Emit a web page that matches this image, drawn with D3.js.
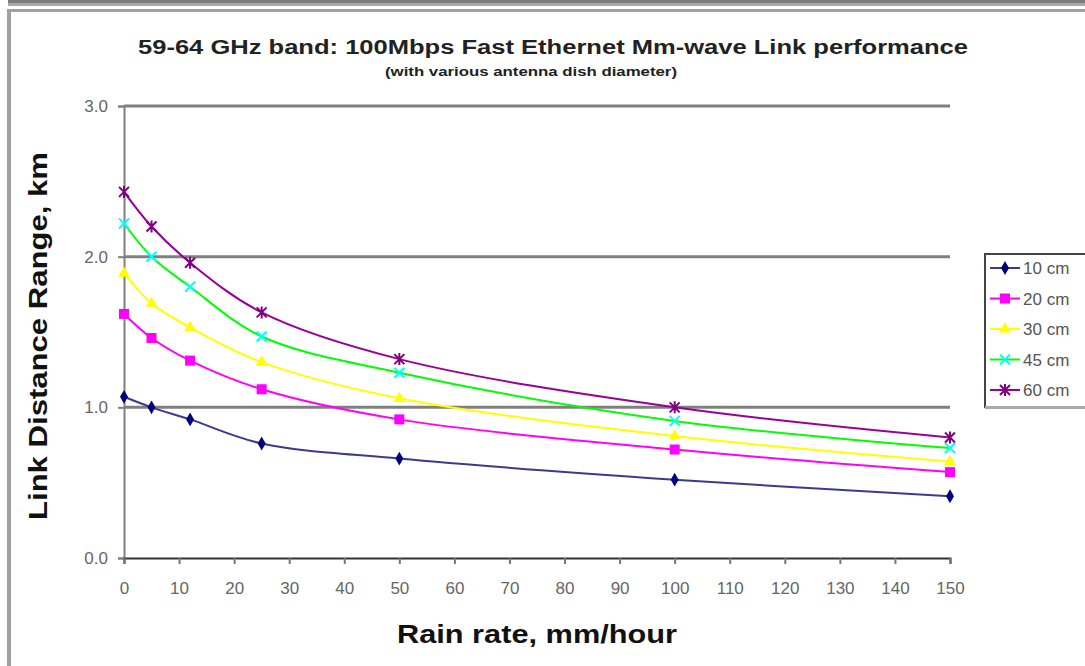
<!DOCTYPE html>
<html>
<head>
<meta charset="utf-8">
<script src="https://cdnjs.cloudflare.com/ajax/libs/d3/7.8.5/d3.min.js"></script>
<style>
  body { margin: 0; background: #fff; }
  svg { display: block; font-family: "Liberation Sans", Arial, sans-serif; }
</style>
</head>
<body>
<svg id="chart" width="1085" height="666"></svg>
<script>
// chart data
const rainRates = [0, 5, 12, 25, 50, 100, 150];
const series10 = [1.07, 1.00, 0.92, 0.76, 0.66, 0.52, 0.41];
const series20 = [1.62, 1.46, 1.31, 1.12, 0.92, 0.72, 0.57];
const series30 = [1.89, 1.69, 1.53, 1.30, 1.06, 0.81, 0.64];
const series45 = [2.22, 2.00, 1.80, 1.47, 1.23, 0.91, 0.73];
const series60 = [2.43, 2.20, 1.96, 1.63, 1.32, 1.00, 0.80];
const seriesNames = ["10 cm", "20 cm", "30 cm", "45 cm", "60 cm"];
const xTicks = [0, 10, 20, 30, 40, 50, 60, 70, 80, 90, 100, 110, 120, 130, 140, 150];
const yTicks = [0, 1, 2, 3];

const styles = [
  { line: "#3a3a95", fill: "#000080", marker: "diamond" },
  { line: "#ff00ff", fill: "#ff00ff", marker: "square" },
  { line: "#ffff00", fill: "#ffff00", marker: "triangle" },
  { line: "#00ff00", fill: "#00ffff", marker: "x" },
  { line: "#990099", fill: "#800080", marker: "star" }
];
const allSeries = [series10, series20, series30, series45, series60];

const svg = d3.select("#chart");

// outer frame
svg.append("rect").attr("x", 8).attr("y", 0).attr("width", 1077).attr("height", 3).attr("fill", "#7c7c7c");
svg.append("rect").attr("x", 8).attr("y", 3).attr("width", 1077).attr("height", 3).attr("fill", "#a9a9a9");
svg.append("rect").attr("x", 8).attr("y", 9).attr("width", 1077).attr("height", 3).attr("fill", "#a0a0a0");
svg.append("rect").attr("x", 7).attr("y", 9).attr("width", 4).attr("height", 657).attr("fill", "#a0a0a0");

const x = d3.scaleLinear().domain([0, 150]).range([124, 950]);
const y = d3.scaleLinear().domain([0, 3]).range([558, 106]);

// gridlines
svg.append("g").selectAll("line").data(yTicks.filter(d => d > 0)).join("line")
  .attr("x1", x(0)).attr("x2", x(150))
  .attr("y1", d => y(d)).attr("y2", d => y(d))
  .attr("stroke", "#808080").attr("stroke-width", 3);

// y axis
const yAxis = svg.append("g").attr("transform", `translate(${x(0)},0)`)
  .call(d3.axisLeft(y).tickValues(yTicks).tickFormat(d3.format(".1f")).tickSizeOuter(0).tickSize(6).tickPadding(10));
yAxis.select(".domain").attr("stroke", "#808080").attr("stroke-width", 2);
yAxis.selectAll(".tick line").attr("stroke", "#808080").attr("stroke-width", 2);
yAxis.selectAll("text").attr("font-size", 17).attr("fill", "#666");

// x axis
const xAxis = svg.append("g").attr("transform", `translate(0,${y(0)})`)
  .call(d3.axisBottom(x).tickValues(xTicks).tickSizeOuter(0).tickSize(6).tickPadding(18));
xAxis.select(".domain").attr("stroke", "#333").attr("stroke-width", 2);
xAxis.selectAll(".tick line").attr("stroke", "#777").attr("stroke-width", 2);
xAxis.selectAll("text").attr("font-size", 17).attr("fill", "#666");

// lines
const line = d3.line()
  .x((d, i) => x(rainRates[i]))
  .y(d => y(d))
  .curve(d3.curveCatmullRom.alpha(0.5));

function drawMarker(g, type, color) {
  if (type === "diamond") {
    g.append("path").attr("d", d3.symbol(d3.symbolDiamond, 55)).attr("fill", color);
  } else if (type === "square") {
    g.append("rect").attr("x", -5).attr("y", -5).attr("width", 10).attr("height", 10).attr("fill", color);
  } else if (type === "triangle") {
    g.append("path").attr("d", d3.symbol(d3.symbolTriangle, 60)).attr("fill", color);
  } else if (type === "x") {
    g.append("path").attr("d", "M-5,-5L5,5M-5,5L5,-5").attr("stroke", color).attr("stroke-width", 2);
  } else if (type === "star") {
    g.append("path").attr("d", "M-5,-5L5,5M-5,5L5,-5M0,-6L0,6").attr("stroke", color).attr("stroke-width", 2);
  }
}

allSeries.forEach((s, k) => {
  svg.append("path").datum(s)
    .attr("d", line)
    .attr("fill", "none")
    .attr("stroke", styles[k].line)
    .attr("stroke-width", 2);
  s.forEach((v, i) => {
    const g = svg.append("g").attr("transform", `translate(${x(rainRates[i])},${y(v)})`);
    drawMarker(g, styles[k].marker, styles[k].fill);
  });
});

// titles
svg.append("text").attr("x", 553).attr("y", 54).attr("text-anchor", "middle")
  .attr("font-size", 20).attr("font-weight", "bold").attr("fill", "#222")
  .attr("textLength", 830).attr("lengthAdjust", "spacingAndGlyphs")
  .text("59-64 GHz band: 100Mbps Fast Ethernet Mm-wave Link performance");
svg.append("text").attr("x", 531).attr("y", 76).attr("text-anchor", "middle")
  .attr("font-size", 12).attr("font-weight", "bold").attr("fill", "#222")
  .attr("textLength", 292).attr("lengthAdjust", "spacingAndGlyphs")
  .text("(with various antenna dish diameter)");

svg.append("text").attr("transform", "translate(47,336) rotate(-90)").attr("text-anchor", "middle")
  .attr("font-size", 26).attr("font-weight", "bold").attr("fill", "#111")
  .attr("textLength", 368).attr("lengthAdjust", "spacingAndGlyphs")
  .text("Link Distance Range, km");
svg.append("text").attr("x", 537).attr("y", 643).attr("text-anchor", "middle")
  .attr("font-size", 26).attr("font-weight", "bold").attr("fill", "#111")
  .attr("textLength", 280).attr("lengthAdjust", "spacingAndGlyphs")
  .text("Rain rate, mm/hour");

// legend
const legend = svg.append("g");
legend.append("rect").attr("x", 985).attr("y", 254).attr("width", 110).attr("height", 153)
  .attr("fill", "#fff").attr("stroke", "#444").attr("stroke-width", 2);
legend.append("rect").attr("x", 985).attr("y", 406).attr("width", 110).attr("height", 3).attr("fill", "#aaa");
seriesNames.forEach((name, k) => {
  const ly = 268 + k * 30.5;
  legend.append("line").attr("x1", 990).attr("x2", 1020).attr("y1", ly).attr("y2", ly)
    .attr("stroke", styles[k].line).attr("stroke-width", 2);
  const g = legend.append("g").attr("transform", `translate(1005,${ly})`);
  drawMarker(g, styles[k].marker, styles[k].fill);
  legend.append("text").attr("x", 1023).attr("y", ly + 6).attr("font-size", 17).attr("fill", "#555").text(name);
});
</script>
</body>
</html>
